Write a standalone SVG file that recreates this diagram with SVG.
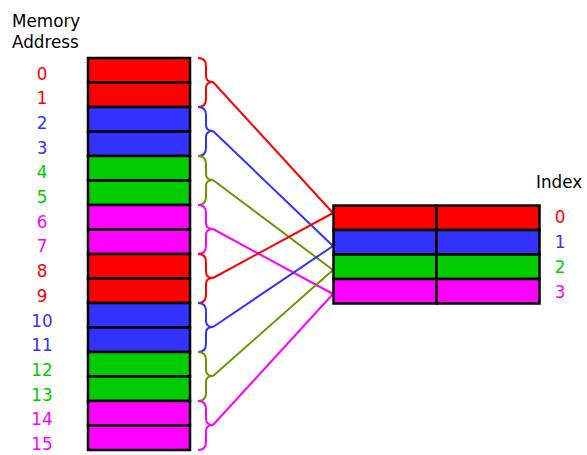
<svg xmlns="http://www.w3.org/2000/svg" width="587" height="455" viewBox="0 0 587 455">
<style>
text{font-family:"DejaVu Sans","Liberation Sans",sans-serif;font-size:16.8px}
.cell{stroke:#000;stroke-width:2.5}
.r{fill:#ff0000}.b{fill:#3333ff}.g{fill:#00cc00}.m{fill:#ff00ff}
.lr{stroke:#ff0000}.lb{stroke:#3333ff}.lg{stroke:#669900}.lm{stroke:#ff00ff}
.conn path{fill:none;stroke-width:2}
.lbl{text-anchor:middle}
</style>
<defs>
<path id="brace" d="M198,58 Q206,58 206,66 L206,76 Q206,82 213,82 Q206,82 206,88 L206,99 Q206,107 198,107" fill="none" stroke-width="2"/>
</defs>
<rect width="587" height="455" fill="#fff"/>
<g id="title"><text x="12" y="27">Memory</text><text x="12" y="48">Address</text></g>
<g id="memory">
<rect class="cell r" x="88" y="58" width="102" height="24.5"/>
<rect class="cell r" x="88" y="82.5" width="102" height="24.5"/>
<rect class="cell b" x="88" y="107" width="102" height="24.5"/>
<rect class="cell b" x="88" y="131.5" width="102" height="24.5"/>
<rect class="cell g" x="88" y="156" width="102" height="24.5"/>
<rect class="cell g" x="88" y="180.5" width="102" height="24.5"/>
<rect class="cell m" x="88" y="205" width="102" height="24.5"/>
<rect class="cell m" x="88" y="229.5" width="102" height="24.5"/>
<rect class="cell r" x="88" y="254" width="102" height="24.5"/>
<rect class="cell r" x="88" y="278.5" width="102" height="24.5"/>
<rect class="cell b" x="88" y="303" width="102" height="24.5"/>
<rect class="cell b" x="88" y="327.5" width="102" height="24.5"/>
<rect class="cell g" x="88" y="352" width="102" height="24.5"/>
<rect class="cell g" x="88" y="376.5" width="102" height="24.5"/>
<rect class="cell m" x="88" y="401" width="102" height="24.5"/>
<rect class="cell m" x="88" y="425.5" width="102" height="24.5"/>
</g>
<g id="addr-labels" class="lbl">
<text x="42" y="79.5" class="r">0</text>
<text x="42" y="104.2" class="r">1</text>
<text x="42" y="128.9" class="b">2</text>
<text x="42" y="153.6" class="b">3</text>
<text x="42" y="178.3" class="g">4</text>
<text x="42" y="203" class="g">5</text>
<text x="42" y="227.7" class="m">6</text>
<text x="42" y="252.4" class="m">7</text>
<text x="42" y="277.1" class="r">8</text>
<text x="42" y="301.8" class="r">9</text>
<text x="42" y="326.5" class="b">10</text>
<text x="42" y="351.2" class="b">11</text>
<text x="42" y="375.9" class="g">12</text>
<text x="42" y="400.6" class="g">13</text>
<text x="42" y="425.3" class="m">14</text>
<text x="42" y="450" class="m">15</text>
</g>
<g id="braces">
<use href="#brace" class="lr"/>
<use href="#brace" class="lb" y="49"/>
<use href="#brace" class="lg" y="98"/>
<use href="#brace" class="lm" y="147"/>
<use href="#brace" class="lr" y="196"/>
<use href="#brace" class="lb" y="245"/>
<use href="#brace" class="lg" y="294"/>
<use href="#brace" class="lm" y="343"/>
</g>
<g id="connectors" class="conn">
<path class="lr" d="M213,82 L333,213"/>
<path class="lb" d="M213,131 L333,246"/>
<path class="lg" d="M213,180 L333,270"/>
<path class="lm" d="M213,229 L333,294"/>
<path class="lr" d="M213,278 L333,213"/>
<path class="lb" d="M213,327 L333,246"/>
<path class="lg" d="M213,376 L333,270"/>
<path class="lm" d="M213,425 L333,294"/>
</g>
<g id="table">
<rect class="cell r" x="333.5" y="205.5" width="103" height="24.5"/>
<rect class="cell r" x="436.5" y="205.5" width="103" height="24.5"/>
<rect class="cell b" x="333.5" y="230" width="103" height="24.5"/>
<rect class="cell b" x="436.5" y="230" width="103" height="24.5"/>
<rect class="cell g" x="333.5" y="254.5" width="103" height="24.5"/>
<rect class="cell g" x="436.5" y="254.5" width="103" height="24.5"/>
<rect class="cell m" x="333.5" y="279" width="103" height="24.5"/>
<rect class="cell m" x="436.5" y="279" width="103" height="24.5"/>
</g>
<g id="index-labels">
<text x="536" y="188" fill="#000">Index</text>
<text x="560" y="223" class="r lbl">0</text>
<text x="560" y="248" class="b lbl">1</text>
<text x="560" y="273" class="g lbl">2</text>
<text x="560" y="298" class="m lbl">3</text>
</g>
</svg>
